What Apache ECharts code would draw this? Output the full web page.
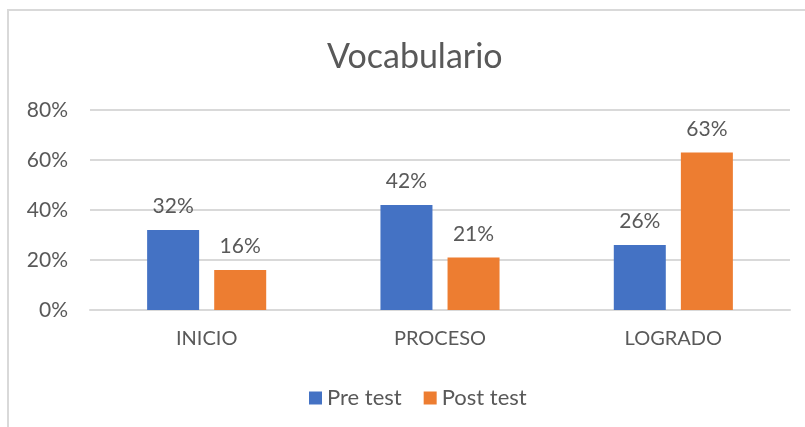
<!DOCTYPE html>
<html>
<head>
<meta charset="utf-8">
<script src="https://cdn.jsdelivr.net/npm/echarts@6/dist/echarts.min.js"></script>
<style>
  html, body { margin: 0; padding: 0; background: #fff; }
  #frame {
    position: absolute; left: 7px; top: 9px; width: 820px; height: 440px;
    border-left: 2px solid #d9d9d9; border-top: 2px solid #d9d9d9;
  }
  #chart { position: absolute; left: 0; top: 0; width: 805px; height: 427px; }
</style>
</head>
<body>
<div id="frame"></div>
<div id="chart"></div>
<script>
// data
const categories = ['INICIO', 'PROCESO', 'LOGRADO'];
const preTest = [32, 42, 26];
const postTest = [16, 21, 63];
const seriesNames = ['Pre test', 'Post test'];

const textColor = '#595959';
const font = 'Lato, "Open Sans", sans-serif';

const chart = echarts.init(document.getElementById('chart'));

const labelStyle = {
  show: true,
  position: 'top',
  distance: 13,
  color: textColor,
  fontSize: 21,
  fontFamily: font,
  formatter: p => p.value + '%'
};

chart.setOption({
  animation: false,
  title: {
    text: 'Vocabulario',
    left: 322,
    top: 35,
    textStyle: { color: textColor, fontSize: 34, fontWeight: 'normal', fontFamily: font }
  },
  legend: {
    data: seriesNames,
    top: 382,
    left: 304,
    itemWidth: 13,
    itemHeight: 13,
    itemGap: 22,
    icon: 'rect',
    textStyle: { color: textColor, fontSize: 22, fontFamily: font }
  },
  grid: { left: 90, right: 15, top: 110, bottom: 117 },
  xAxis: {
    type: 'category',
    data: categories,
    axisLine: { lineStyle: { color: '#d9d9d9', width: 2 } },
    axisTick: { show: false },
    axisLabel: { color: textColor, fontSize: 20, fontFamily: font, margin: 19 }
  },
  yAxis: {
    type: 'value',
    min: 0,
    max: 80,
    interval: 20,
    axisLine: { show: false },
    axisTick: { show: false },
    splitLine: { lineStyle: { color: '#d9d9d9', width: 2 } },
    axisLabel: { color: textColor, fontSize: 21, fontFamily: font, margin: 22, formatter: '{value}%' }
  },
  series: [
    {
      name: seriesNames[0],
      type: 'bar',
      data: preTest,
      barWidth: 52,
      barGap: '29%',
      itemStyle: { color: '#4472c4' },
      label: labelStyle
    },
    {
      name: seriesNames[1],
      type: 'bar',
      data: postTest,
      barWidth: 52,
      itemStyle: { color: '#ed7d31' },
      label: labelStyle
    }
  ]
});
</script>
</body>
</html>
